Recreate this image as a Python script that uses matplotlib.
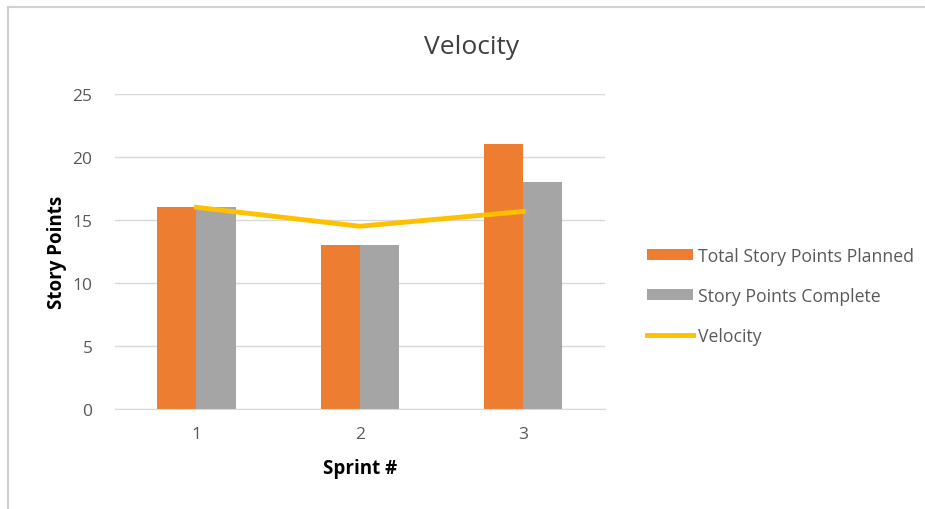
import matplotlib
matplotlib.use("Agg")
import matplotlib.pyplot as plt
from matplotlib.lines import Line2D
import numpy as np

plt.rcParams['font.family'] = ['Open Sans', 'DejaVu Sans']

sprints = ["1", "2", "3"]
planned = [16, 13, 21]
complete = [16, 13, 18]
velocity = [16, 14.5, 15.67]

fig = plt.figure(figsize=(9.25, 5.10), dpi=100)
ax = fig.add_axes([0.124, 0.196, 0.530, 0.618])

x = np.arange(len(sprints))
w = 0.24
b1 = ax.bar(x - w/2, planned, w, color="#ed7d31", label="Total Story Points Planned", zorder=2)
b2 = ax.bar(x + w/2, complete, w, color="#a5a5a5", label="Story Points Complete", zorder=2)
l1, = ax.plot(x, velocity, color="#ffc000", lw=3.5, label="Velocity", zorder=3)

ax.set_xlim(-0.5, 2.5)
ax.set_ylim(0, 25)
ax.set_yticks([0, 5, 10, 15, 20, 25])
ax.set_xticks(x)
ax.set_xticklabels(sprints)
ax.yaxis.grid(True, color="#d9d9d9", lw=1, zorder=0)
for s in ["top", "right", "left"]:
    ax.spines[s].set_visible(False)
ax.spines["bottom"].set_color("#d9d9d9")
ax.tick_params(length=0, labelsize=12.5, colors="#595959", pad=12)
ax.tick_params(axis="y", pad=16)
ax.set_xlabel("Sprint #", fontsize=13.5, fontweight="bold", labelpad=12)
ax.set_ylabel("Story Points", fontsize=13.5, fontweight="bold", labelpad=4)
fig.text(472/925, 1 - 48/510, "Velocity", fontsize=19, color="#404040", ha="center", va="center")

leg = fig.legend([b1, b2, l1], ["Total Story Points Planned", "Story Points Complete", "Velocity"],
                 loc="center left", bbox_to_anchor=(0.682, 0.418), frameon=False,
                 fontsize=12.7, labelcolor="#595959", handlelength=2.6, handleheight=0.6,
                 handletextpad=0.3, labelspacing=1.25)

fig.add_artist(Line2D([8/925, 8/925], [0, 1 - 8/510], color="#d0d0d0", lw=1.5, transform=fig.transFigure))
fig.add_artist(Line2D([8/925, 1], [1 - 8/510, 1 - 8/510], color="#d0d0d0", lw=1.5, transform=fig.transFigure))

fig.savefig("out.png", dpi=100)
